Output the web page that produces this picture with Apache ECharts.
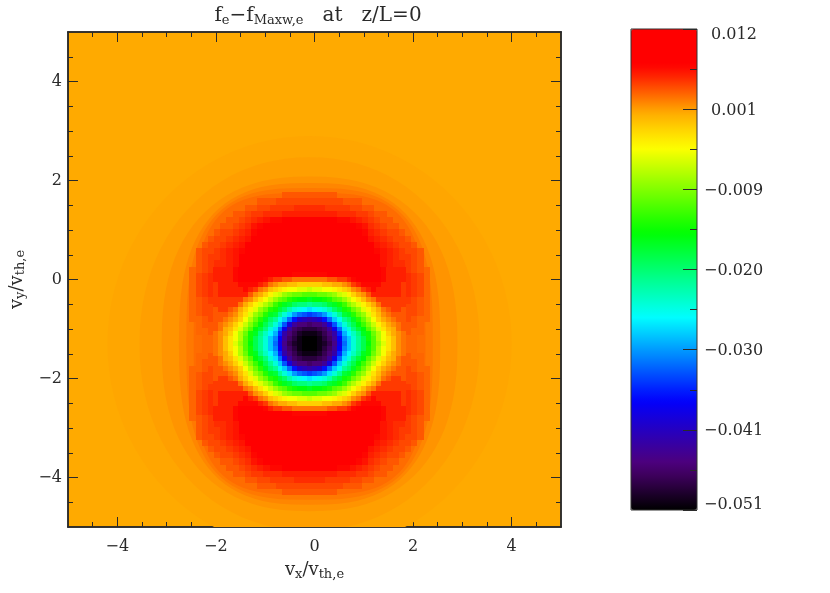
<!DOCTYPE html>
<html><head><meta charset="utf-8"><style>html,body{margin:0;padding:0;background:#fff}#c{width:830px;height:593px}</style>
<script src="https://cdn.jsdelivr.net/npm/echarts@6/dist/echarts.min.js"></script></head><body><div id="c"></div><script>
const centerX=-0.1, centerY=-1.3;
const majorTicks=[-4,-2,0,2,4];
const minorTicks=[-4.5,-3.5,-3,-2.5,-1.5,-1,-0.5,0.5,1,1.5,2.5,3,3.5,4.5];
const colorbarLabels=['0.012','0.001','−0.009','−0.020','−0.030','−0.041','−0.051'];
const colorbarLabelAt=[0.01122,0.00126,-0.00922,-0.0197,-0.03017,-0.04065,-0.05035];
const colorbarMajor=[0.012,0.0015,-0.009,-0.0195,-0.03,-0.0405,-0.051];
const colorbarMinor=[0.00675,-0.00375,-0.01425,-0.02475,-0.03525,-0.04575];
const palette=['#000000','#150020','#2b0040','#400060','#4c007e','#3e0097','#2f00b0','#2000c9','#1100e2','#0200fb','#001fff','#0044ff','#0069ff','#008eff','#00b3ff','#00d8ff','#00fdff','#00ffdc','#00ffb8','#00ff95','#00ff70','#00ff4c','#00ff28','#00ff04','#20ff00','#44ff00','#69ff00','#8dff00','#b2ff00','#d6ff00','#fbff00','#ffe600','#ffc900','#ffac00','#ff8000','#ff5300','#ff2600','#ff0000','#ff0000','#ff0000','#ff0000'];
// outer contour bands: level (0.0005), half-width, half-height, squareness
const bandLevels=[2.4,2.9,3.7,4.7,5.6,6.5];
const bandHalfX=[4.1,3.45,3.0,2.65,2.5,2.35];
const bandHalfY=[4.2,3.77,3.38,3.25,3.15,3.05];
const bandShape=[2,2.1,2.4,2.7,3,3.4];
// side flanks of the core, units of 0.0005; step 0.125, rows top to bottom
const rightFlankRows=[
[11,10,9,7,6],[11,10,9,7,6],[11,10,9,7,6],[11,10,9,7,6],[11,10,9,7,6],[10,9,8,7,6],[9,9,8,7,6],[9,9,8,7,6],[9,8,7,7,6],[8,8,7,6,6],[8,7,7,6,6],[7,7,6,6,5],
[7,7,6,6,5],
[7,7,6,6,5],[8,7,7,6,6],[8,8,7,6,6],[9,8,7,7,6],[9,9,8,7,6],[9,9,8,7,6],[10,9,8,7,6],[11,10,9,7,6],[11,10,9,7,6],[11,10,9,7,6],[11,10,9,7,6],[11,10,9,7,6]
];
const leftFlankRows=[
[6,7,9,10,11],[6,7,9,10,11],[6,7,9,10,11],[6,7,9,10,11],[6,7,9,10,11],[6,7,8,9,10],[6,7,8,9,9],[6,7,8,9,9],[6,7,7,8,9],[6,6,7,8,8],[6,6,7,7,8],[5,6,6,7,7],
[5,6,6,7,7],
[5,6,6,7,7],[6,6,7,7,8],[6,6,7,8,8],[6,7,7,8,9],[6,7,8,9,9],[6,7,8,9,9],[6,7,8,9,10],[6,7,9,10,11],[6,7,9,10,11],[6,7,9,10,11],[6,7,9,10,11],[6,7,9,10,11]
];
// upper lobe, units of 0.0005; step 0.125, rows top to bottom
const upperLobeRows=[
[3,3,3,3,3,3,3,4,4,4,4,4,5,5,5,6,6,6,6,6,6,6,6,6,6,6,5,5,5,4,4,4,4,4,3,3,3,3,3,3,3],
[3,3,3,3,3,4,4,4,5,5,5,6,6,7,7,7,8,8,8,8,8,8,8,8,8,7,7,7,6,6,5,5,5,4,4,4,3,3,3,3,3],
[3,3,3,4,4,4,5,5,6,6,7,7,8,8,8,9,9,9,9,9,9,9,9,9,9,9,8,8,8,7,7,6,6,5,5,4,4,4,3,3,3],
[3,4,4,4,5,5,6,6,7,7,8,8,9,9,10,10,10,10,11,11,11,11,11,10,10,10,10,9,9,8,8,7,7,6,6,5,5,4,4,4,3],
[4,4,5,5,6,6,6,7,8,8,9,10,10,11,11,11,12,12,12,12,12,12,12,12,12,11,11,11,10,10,9,8,8,7,6,6,6,5,5,4,4],
[4,5,5,6,6,7,7,8,8,9,10,11,12,13,14,14,15,15,15,15,15,15,15,15,15,14,14,13,12,11,10,9,8,8,7,7,6,6,5,5,4],
[5,5,6,6,7,7,8,8,9,10,11,13,14,15,16,16,16,16,16,16,16,16,16,16,16,16,16,15,14,13,11,10,9,8,8,7,7,6,6,5,5],
[5,6,6,7,7,8,9,9,10,11,12,14,15,18,18,18,18,18,18,18,18,18,18,18,18,18,18,18,15,14,12,11,10,9,9,8,7,7,6,6,5],
[6,6,7,7,8,9,9,10,11,12,13,15,20,20,20,20,20,20,20,20,20,20,20,20,20,20,20,20,20,15,13,12,11,10,9,9,8,7,7,6,6],
[6,7,7,8,9,9,10,11,12,13,15,22,22,22,22,22,22,22,22,22,22,22,22,22,22,22,22,22,22,22,15,13,12,11,10,9,9,8,7,7,6],
[7,7,8,9,9,10,11,12,13,14,16,22,22,22,22,22,22,22,22,22,22,22,22,22,22,22,22,22,22,22,16,14,13,12,11,10,9,9,8,7,7],
[7,7,8,9,10,10,11,12,13,15,20,20,20,20,20,20,20,20,20,20,20,20,20,20,20,20,20,20,20,20,20,15,13,12,11,10,10,9,8,7,7],
[7,7,8,9,10,11,11,12,13,18,18,18,18,18,18,18,18,18,18,18,18,18,18,18,18,18,18,18,18,18,18,18,13,12,11,11,10,9,8,7,7],
[7,7,8,9,10,11,11,12,13,18,18,18,18,18,18,18,18,18,18,18,18,18,18,18,18,18,18,18,18,18,18,18,13,12,11,11,10,9,8,7,7]
];
// lower lobe, units of 0.0005; step 0.125, rows top to bottom
const lowerLobeRows=[
[7,7,8,9,10,11,11,12,13,18,18,18,18,18,18,18,18,18,18,18,18,18,18,18,18,18,18,18,18,18,18,18,13,12,11,11,10,9,8,7,7],
[7,7,8,9,10,11,11,12,13,18,18,18,18,18,18,18,18,18,18,18,18,18,18,18,18,18,18,18,18,18,18,18,13,12,11,11,10,9,8,7,7],
[7,7,8,9,10,10,11,12,13,15,20,20,20,20,20,20,20,20,20,20,20,20,20,20,20,20,20,20,20,20,20,15,13,12,11,10,10,9,8,7,7],
[7,7,8,9,9,10,11,12,13,14,16,22,22,22,22,22,22,22,22,22,22,22,22,22,22,22,22,22,22,22,16,14,13,12,11,10,9,9,8,7,7],
[6,7,7,8,9,9,10,11,12,13,15,22,22,22,22,22,22,22,22,22,22,22,22,22,22,22,22,22,22,22,15,13,12,11,10,9,9,8,7,7,6],
[6,6,7,7,8,9,9,10,11,12,13,15,20,20,20,20,20,20,20,20,20,20,20,20,20,20,20,20,20,15,13,12,11,10,9,9,8,7,7,6,6],
[5,6,6,7,7,8,9,9,10,11,12,14,15,18,18,18,18,18,18,18,18,18,18,18,18,18,18,18,15,14,12,11,10,9,9,8,7,7,6,6,5],
[5,5,6,6,7,7,8,8,9,10,11,13,14,15,16,16,16,16,16,16,16,16,16,16,16,16,16,15,14,13,11,10,9,8,8,7,7,6,6,5,5],
[4,5,5,6,6,7,7,8,8,9,10,11,12,13,14,14,15,15,15,15,15,15,15,15,15,14,14,13,12,11,10,9,8,8,7,7,6,6,5,5,4],
[4,4,5,5,6,6,6,7,8,8,9,10,10,11,11,11,12,12,12,12,12,12,12,12,12,11,11,11,10,10,9,8,8,7,6,6,6,5,5,4,4],
[3,4,4,4,5,5,6,6,7,7,8,8,9,9,10,10,10,10,11,11,11,11,11,10,10,10,10,9,9,8,8,7,7,6,6,5,5,4,4,4,3],
[3,3,3,4,4,4,5,5,6,6,7,7,8,8,8,9,9,9,9,9,9,9,9,9,9,9,8,8,8,7,7,6,6,5,5,4,4,4,3,3,3],
[3,3,3,3,3,4,4,4,5,5,5,6,6,7,7,7,8,8,8,8,8,8,8,8,8,7,7,7,6,6,5,5,5,4,4,4,3,3,3,3,3],
[3,3,3,3,3,3,3,4,4,4,4,4,5,5,5,6,6,6,6,6,6,6,6,6,6,6,5,5,5,4,4,4,4,4,3,3,3,3,3,3,3]
];
// core field, units of 0.001; step 0.1, rows top to bottom
const coreRows=[
[6,6,6,6,7,9,9,10,10,10,10,10,10,10,9,9,9,9,9,9,9,9,9,9,9,10,10,10,10,10,10,10,9,9,7,6,6,6,6],
[6,6,6,6,7,8,9,10,10,10,9,9,8,8,8,8,7,7,7,7,7,7,7,8,8,8,8,9,9,10,10,10,9,8,7,6,6,6,6],
[6,6,6,6,7,8,8,8,8,8,7,6,5,5,4,4,3,3,3,3,3,3,3,4,4,5,5,6,7,8,8,8,8,8,7,6,6,6,6],
[5,6,6,6,6,7,7,7,7,6,5,3,2,1,1,0,0,-1,-1,-1,-1,-1,0,0,1,1,2,3,5,6,7,7,7,7,6,6,6,6,5],
[5,6,6,6,6,6,7,6,5,3,2,0,-1,-2,-3,-4,-4,-5,-5,-6,-5,-5,-4,-4,-3,-2,-1,0,2,3,5,6,7,6,6,6,6,6,5],
[5,6,6,6,6,6,6,4,2,1,-1,-3,-5,-6,-8,-9,-10,-10,-11,-11,-11,-10,-10,-9,-8,-6,-5,-3,-1,1,2,4,6,6,6,6,6,6,5],
[5,5,5,5,5,5,3,2,0,-2,-4,-6,-8,-10,-11,-13,-14,-15,-15,-16,-15,-15,-14,-13,-11,-10,-8,-6,-4,-2,0,2,3,5,5,5,5,5,5],
[5,5,5,5,5,3,1,-1,-3,-5,-7,-9,-12,-14,-16,-17,-19,-20,-20,-21,-20,-20,-19,-17,-16,-14,-12,-9,-7,-5,-3,-1,1,3,5,5,5,5,5],
[4,5,5,4,3,1,-1,-3,-5,-8,-10,-13,-14,-17,-19,-22,-24,-25,-26,-27,-26,-25,-24,-22,-19,-17,-14,-13,-10,-8,-5,-3,-1,1,3,4,5,5,4],
[4,4,4,3,2,0,-2,-5,-8,-10,-13,-16,-17,-21,-24,-27,-30,-32,-33,-34,-33,-32,-30,-27,-24,-21,-17,-16,-13,-10,-8,-5,-2,0,2,3,4,4,4],
[4,4,3,2,1,-1,-4,-7,-10,-13,-16,-19,-21,-25,-28,-32,-36,-40,-41,-42,-41,-40,-36,-32,-28,-25,-21,-19,-16,-13,-10,-7,-4,-1,1,2,3,4,4],
[4,3,2,1,-1,-3,-6,-9,-12,-15,-18,-21,-24,-28,-33,-39,-43,-45,-45,-46,-45,-45,-43,-39,-33,-28,-24,-21,-18,-15,-12,-9,-6,-3,-1,1,2,3,4],
[4,3,1,0,-2,-5,-8,-11,-15,-17,-20,-24,-27,-32,-38,-43,-46,-47,-48,-48,-48,-47,-46,-43,-38,-32,-27,-24,-20,-17,-15,-11,-8,-5,-2,0,1,3,4],
[3,2,1,-1,-4,-7,-10,-14,-16,-20,-23,-26,-29,-35,-42,-45,-47,-49,-50,-50,-50,-49,-47,-45,-42,-35,-29,-26,-23,-20,-16,-14,-10,-7,-4,-1,1,2,3],
[3,2,0,-2,-4,-7,-11,-14,-18,-21,-24,-28,-31,-37,-43,-46,-48,-50,-51,-51,-51,-50,-48,-46,-43,-37,-31,-28,-24,-21,-18,-14,-11,-7,-4,-2,0,2,3],
[3,2,0,-2,-5,-8,-11,-15,-18,-21,-24,-28,-32,-38,-44,-47,-49,-50,-51,-51,-51,-50,-49,-47,-44,-38,-32,-28,-24,-21,-18,-15,-11,-8,-5,-2,0,2,3],
[3,2,0,-2,-4,-7,-11,-14,-18,-21,-24,-28,-31,-37,-43,-46,-48,-50,-51,-51,-51,-50,-48,-46,-43,-37,-31,-28,-24,-21,-18,-14,-11,-7,-4,-2,0,2,3],
[3,2,1,-1,-4,-7,-10,-14,-16,-20,-23,-26,-29,-35,-42,-45,-47,-49,-50,-50,-50,-49,-47,-45,-42,-35,-29,-26,-23,-20,-16,-14,-10,-7,-4,-1,1,2,3],
[4,3,1,0,-2,-5,-8,-11,-15,-17,-20,-24,-27,-32,-38,-43,-46,-47,-48,-48,-48,-47,-46,-43,-38,-32,-27,-24,-20,-17,-15,-11,-8,-5,-2,0,1,3,4],
[4,3,2,1,-1,-3,-6,-9,-12,-15,-18,-21,-24,-28,-33,-39,-43,-45,-45,-46,-45,-45,-43,-39,-33,-28,-24,-21,-18,-15,-12,-9,-6,-3,-1,1,2,3,4],
[4,4,3,2,1,-1,-4,-7,-10,-13,-16,-19,-21,-25,-28,-32,-36,-40,-41,-42,-41,-40,-36,-32,-28,-25,-21,-19,-16,-13,-10,-7,-4,-1,1,2,3,4,4],
[4,4,4,3,2,0,-2,-5,-8,-10,-13,-16,-17,-21,-24,-27,-30,-32,-33,-34,-33,-32,-30,-27,-24,-21,-17,-16,-13,-10,-8,-5,-2,0,2,3,4,4,4],
[4,5,5,4,3,1,-1,-3,-5,-8,-10,-13,-14,-17,-19,-22,-24,-25,-26,-27,-26,-25,-24,-22,-19,-17,-14,-13,-10,-8,-5,-3,-1,1,3,4,5,5,4],
[5,5,5,5,5,3,1,-1,-3,-5,-7,-9,-12,-14,-16,-17,-19,-20,-20,-21,-20,-20,-19,-17,-16,-14,-12,-9,-7,-5,-3,-1,1,3,5,5,5,5,5],
[5,5,5,5,5,5,3,2,0,-2,-4,-6,-8,-10,-11,-13,-14,-15,-15,-16,-15,-15,-14,-13,-11,-10,-8,-6,-4,-2,0,2,3,5,5,5,5,5,5],
[5,6,6,6,6,6,6,4,2,1,-1,-3,-5,-6,-8,-9,-10,-10,-11,-11,-11,-10,-10,-9,-8,-6,-5,-3,-1,1,2,4,6,6,6,6,6,6,5],
[5,6,6,6,6,6,7,6,5,3,2,0,-1,-2,-3,-4,-4,-5,-5,-6,-5,-5,-4,-4,-3,-2,-1,0,2,3,5,6,7,6,6,6,6,6,5],
[5,6,6,6,6,7,7,7,7,6,5,3,2,1,1,0,0,-1,-1,-1,-1,-1,0,0,1,1,2,3,5,6,7,7,7,7,6,6,6,6,5],
[6,6,6,6,7,8,8,8,8,8,7,6,5,5,4,4,3,3,3,3,3,3,3,4,4,5,5,6,7,8,8,8,8,8,7,6,6,6,6],
[6,6,6,6,7,8,9,10,10,10,9,9,8,8,8,8,7,7,7,7,7,7,7,8,8,8,8,9,9,10,10,10,9,8,7,6,6,6,6],
[6,6,6,6,7,9,9,10,10,10,10,10,10,10,9,9,9,9,9,9,9,9,9,9,9,10,10,10,10,10,10,10,9,9,7,6,6,6,6]
];
const F='"DejaVu Serif",serif', INK='#2a2a2a', BAND_UNIT=0.0005, CORE_UNIT=0.001;
function cells(rows,step,unit,firstColumn,firstRow,minLevel){
  const out=[];
  rows.forEach((row,r)=>row.forEach((n,c)=>{
    if(n<minLevel) return;
    out.push([centerX+firstColumn+c*step,centerY+firstRow-r*step,n*unit,step]);
  }));
  return out;
}
function renderCell(params,api){
  const x=api.value(0),y=api.value(1),h=api.value(3)/2;
  const a=api.coord([x-h,y+h]),b=api.coord([x+h,y-h]);
  const x0=Math.round(a[0]),y0=Math.round(a[1]),x1=Math.round(b[0]),y1=Math.round(b[1]);
  return {type:'rect',shape:{x:x0,y:y0,width:x1-x0,height:y1-y0},style:{fill:api.visual('color')}};
}
function renderBand(params,api){
  const cx=api.value(0),cy=api.value(1),hx=api.value(3),hy=api.value(4),p=api.value(5),pts=[];
  for(let i=0;i<96;i++){
    const t=i/96*2*Math.PI,c=Math.cos(t),s=Math.sin(t);
    pts.push(api.coord([cx+hx*Math.sign(c)*Math.pow(Math.abs(c),2/p),cy+hy*Math.sign(s)*Math.pow(Math.abs(s),2/p)]));
  }
  return {type:'polygon',shape:{points:pts},style:{fill:api.visual('color')}};
}
const bandData=bandLevels.map((n,i)=>[centerX,centerY,n*BAND_UNIT,bandHalfX[i],bandHalfY[i],bandShape[i]]);
const minus=v=>String(v).replace('-','−');
const box=(pos,major,labelled,extra)=>Object.assign({
  type:'value',position:pos,min:-5,max:5,splitLine:{show:false},
  axisLine:{show:true,onZero:false,lineStyle:{color:INK,width:1.5}},
  axisTick:{show:true,inside:true,length:major?10:5,customValues:major?majorTicks:minorTicks,lineStyle:{color:INK,width:1}},
  axisLabel:labelled?{show:true,customValues:majorTicks,formatter:minus,fontFamily:F,fontSize:16,color:INK,margin:pos==='left'?6:12}:{show:false}
},extra||{});
const richName={s:{fontFamily:F,fontSize:13,color:INK,padding:[8,0,0,0]},m:{fontFamily:F,fontSize:18,color:INK}};
const layer=(name,rows,step,unit,col,row,min,z)=>({name,type:'custom',xAxisIndex:0,yAxisIndex:0,clip:true,renderItem:renderCell,silent:true,z,
  data:cells(rows,step,unit,col,row,min),encode:{x:0,y:1}});
const option={
  animation:false,backgroundColor:'#fff',
  title:{left:313,top:0,textAlign:'center',text:'{m|f}{s|e}{m|−f}{s|Maxw,e}{m|   at   z/L=0}',
    textStyle:{fontWeight:'normal',rich:{m:{fontFamily:F,fontSize:20,fontWeight:'normal',color:INK},s:{fontFamily:F,fontSize:13,fontWeight:'normal',color:INK,padding:[9,0,0,0]}}}},
  grid:[{left:67,top:32,width:494,height:495,show:true,backgroundColor:'#ffaa00',borderWidth:0},
        {left:631,top:29,width:66,height:481,show:true,backgroundColor:'transparent',borderColor:'#333',borderWidth:1,z:10}],
  xAxis:[
    box('bottom',true,true,{name:'{m|v}{s|x}{m|/v}{s|th,e}',nameLocation:'middle',nameGap:33,nameTextStyle:{rich:richName}}),
    box('bottom',false,false),box('top',true,false),box('top',false,false),
    {gridIndex:1,type:'value',min:0,max:1,show:false}
  ],
  yAxis:[
    box('left',true,true,{name:'{m|v}{s|y}{m|/v}{s|th,e}',nameLocation:'middle',nameGap:35,nameTextStyle:{rich:richName}}),
    box('left',false,false),box('right',true,false),box('right',false,false),
    {gridIndex:1,type:'value',position:'right',min:-0.051,max:0.012,splitLine:{show:false},z:11,
      axisLine:{show:false,onZero:false},
      axisTick:{show:true,inside:true,length:14,customValues:colorbarMajor,lineStyle:{color:INK,width:1}},
      axisLabel:{show:true,customValues:colorbarLabelAt,margin:7,fontFamily:F,fontSize:16,color:INK,align:'left',
        rich:{p:{fontFamily:F,fontSize:16,color:INK,padding:[0,0,0,7]}},
        formatter:v=>{const t=colorbarLabels[colorbarLabelAt.indexOf(v)];return t[0]==='−'?t:'{p|'+t+'}';}}},
    {gridIndex:1,type:'value',position:'right',min:-0.051,max:0.012,splitLine:{show:false},z:11,
      axisLine:{show:false,onZero:false},
      axisTick:{show:true,inside:true,length:7,customValues:colorbarMinor,lineStyle:{color:INK,width:1}},
      axisLabel:{show:false}}
  ],
  visualMap:{type:'continuous',min:-0.051,max:0.012,dimension:2,seriesIndex:[0,1,2,3,4,5],show:true,calculable:false,
    left:631,top:29,itemWidth:66,itemHeight:481,padding:0,text:null,showLabel:false,hoverLink:false,
    inRange:{color:palette}},
  series:[
    {name:'bands',type:'custom',xAxisIndex:0,yAxisIndex:0,clip:true,renderItem:renderBand,silent:true,z:2,data:bandData,encode:{x:0,y:1}},
    layer('left flank',leftFlankRows,0.125,BAND_UNIT,-2.5,1.5,7,3),
    layer('right flank',rightFlankRows,0.125,BAND_UNIT,2,1.5,7,3),
    layer('upper lobe',upperLobeRows,0.125,BAND_UNIT,-2.5,3.125,8,3),
    layer('lower lobe',lowerLobeRows,0.125,BAND_UNIT,-2.5,-1.5,8,3),
    layer('core',coreRows,0.1,CORE_UNIT,-1.9,1.5,-Infinity,4)
  ]
};
echarts.init(document.getElementById('c'),null,{renderer:'canvas'}).setOption(option);
</script></body></html>
